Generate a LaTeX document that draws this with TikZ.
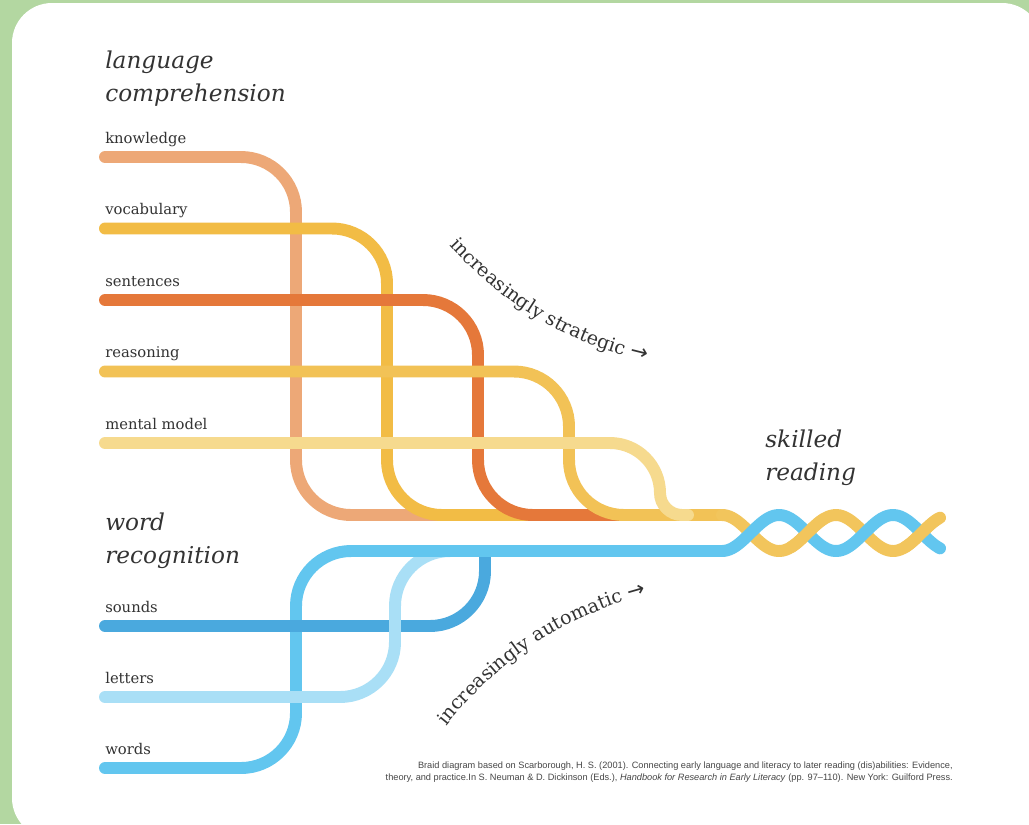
\documentclass[tikz,border=0pt]{standalone}
\usepackage{fontspec}
\setmainfont{DejaVu Serif}
\setsansfont{Liberation Sans}
\newfontfamily\arrowfont{DejaVu Sans}
\usepackage{xcolor}
\usepackage{tikz}
\usetikzlibrary{decorations.text}

\definecolor{knowcol}{HTML}{EDA877}
\definecolor{vocabcol}{HTML}{F2BC45}
\definecolor{sentcol}{HTML}{E5783A}
\definecolor{reascol}{HTML}{F2C256}
\definecolor{mentcol}{HTML}{F6DA8E}
\definecolor{braidyel}{HTML}{F2C55C}
\definecolor{soundcol}{HTML}{4AA9DE}
\definecolor{lettcol}{HTML}{A9DFF6}
\definecolor{wordcol}{HTML}{62C6EF}
\definecolor{framegreen}{HTML}{B3D7A1}
\definecolor{inkgray}{HTML}{333333}

\newcommand\curvefont{\fontsize{13.5}{16}\selectfont\color{inkgray}}
\newcommand\curvearrow{\arrowfont\fontsize{15}{17}\selectfont\color{inkgray}}

\begin{document}
\begin{tikzpicture}[
  x = 0.025cm, y = -0.025cm,
  every node/.style = {text=inkgray, inner sep=0pt},
  strand/.style     = {line width=8.5pt, line cap=round},
  cornered/.style   = {rounded corners=1.375cm},
  headtext/.style   = {font=\fontsize{16.5}{20}\selectfont\itshape,
                       anchor=base west},
  strandlabel/.style= {font=\fontsize{10.5}{13}\selectfont, anchor=base west},
  citation/.style   = {font=\sffamily\fontsize{6.55}{8.6}\selectfont,
                       align=right, text=inkgray!90}
]

% --- frame ---
\useasboundingbox (0,0) rectangle (1029,824);
\fill[framegreen] (0,0) rectangle (1029,824);
\fill[white, rounded corners=1cm] (12,3) rectangle (1042,838);

% --- language comprehension strands (top to bottom) ---
\draw[strand, cornered, knowcol]  (105,157) -- (296,157) -- (296,515) -- (722,515);
\draw[strand, cornered, vocabcol] (105,228.5) -- (387,228.5) -- (387,515) -- (722,515);
\draw[strand, cornered, sentcol]  (105,300) -- (478,300) -- (478,515) -- (722,515);
\draw[strand, cornered, reascol]  (105,371.5) -- (569,371.5) -- (569,515) -- (722,515);
\draw[strand, mentcol] (105,443) -- (610,443)
      .. controls (637.6,443) and (660,465.4) .. (660,493)
      .. controls (660,505) and (670,515) .. (682,515) -- (688,515);

% --- word recognition strands ---
\draw[strand, cornered, wordcol]  (105,768) -- (296,768) -- (296,551) -- (722,551);
\draw[strand, cornered, soundcol] (105,626) -- (485,626) -- (485,553);
\draw[strand, cornered, lettcol]  (105,697) -- (395,697) -- (395,551) -- (470,551);
% words line again, over sounds and letters
\draw[strand, wordcol, line cap=butt] (352,551) -- (722,551);

% --- braid (phase 180/57 per px) ---
\draw[strand, braidyel] plot[domain=722:940, samples=90]
      (\x, {533-18*cos(3.15789*(\x-722))});
\draw[strand, wordcol] plot[domain=722:940, samples=90]
      (\x, {533+18*cos(3.15789*(\x-722))});
\foreach \c in {807.5, 921.5} {
  \draw[strand, braidyel, line cap=butt] plot[domain=\c-17:\c+17, samples=30]
        (\x, {533-18*cos(3.15789*(\x-722))});
}

% --- headings ---
\node[headtext] (lang)  at (105,68)  {language};
\node[headtext] (comp)  at (105,101) {comprehension};
\node[headtext] (word)  at (105,530) {word};
\node[headtext] (recog) at (105,563) {recognition};
\node[headtext] (skill) at (765,447) {skilled};
\node[headtext] (read)  at (765,480) {reading};

% --- strand labels ---
\node[strandlabel] (know)  at (105,143)   {knowledge};
\node[strandlabel] (vocab) at (105,214.5) {vocabulary};
\node[strandlabel] (sent)  at (105,286)   {sentences};
\node[strandlabel] (reas)  at (105,357.5) {reasoning};
\node[strandlabel] (ment)  at (105,429)   {mental model};
\node[strandlabel] (sound) at (105,612)   {sounds};
\node[strandlabel] (lett)  at (105,683)   {letters};
\node[strandlabel] (words) at (105,754)   {words};

% --- curved captions ---
\path[decorate, decoration={text along path,
      text={|\curvefont|increasingly strategic |\curvearrow|→}}]
      (449,245) .. controls (500,300) and (560,345) .. (665,365);
\path[decorate, decoration={text along path,
      text={|\curvefont|increasingly automatic |\curvearrow|→}}]
      (446,726) .. controls (485,678) and (550,614) .. (670,589);

% --- source ---
\node[citation, anchor=east] (cite) at (953,772)
  {Braid diagram based on Scarborough, H. S. (2001). Connecting early language and literacy to later reading (dis)abilities: Evidence,\\
   theory, and practice.In S. Neuman \& D. Dickinson (Eds.), \textit{Handbook for Research in Early Literacy} (pp. 97--110). New York: Guilford Press.};

\end{tikzpicture}
\end{document}
